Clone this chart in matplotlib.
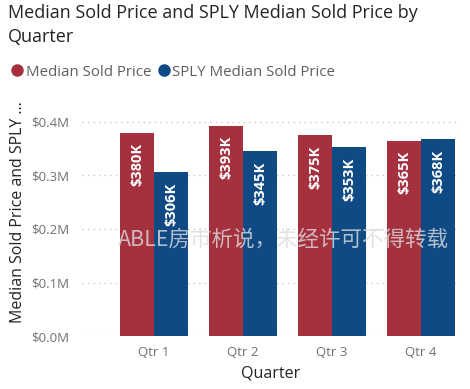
import matplotlib
matplotlib.use("Agg")
import matplotlib.pyplot as plt
from matplotlib.lines import Line2D
import numpy as np

plt.rcParams['font.family'] = ['Open Sans', 'DejaVu Sans']

# data
quarters = ['Qtr 1', 'Qtr 2', 'Qtr 3', 'Qtr 4']
median_sold = [380, 393, 375, 365]      # $K
sply_median_sold = [306, 345, 353, 368]  # $K
y_ticks = [0.0, 0.1, 0.2, 0.3, 0.4]     # $M

red = '#A5313F'
blue = '#0F4A85'

fig = plt.figure(figsize=(4.7, 3.89), dpi=100)
ax = fig.add_axes([0.1745, 0.1362, 0.8045, 0.5682])

x = np.arange(len(quarters))
w = 0.382
med_m = np.array(median_sold) / 1000
sply_m = np.array(sply_median_sold) / 1000
ax.bar(x - w / 2, med_m, w, color=red, zorder=2)
ax.bar(x + w / 2, sply_m, w, color=blue, zorder=2)

# value labels inside bar tops
for xs, vals in ((x - w / 2, median_sold), (x + w / 2, sply_median_sold)):
    for xi, v in zip(xs, vals):
        ax.annotate(f'${v}K', (xi, v / 1000), xytext=(0, -7.5), textcoords='offset points',
                    rotation=90, ha='center', va='top', color='white',
                    fontsize=10.5, fontweight='bold', zorder=3)

ax.set_xlim(-0.809, 3.438)
ax.set_ylim(0, 0.413)
ax.set_xticks(x)
ax.set_xticklabels(quarters, color='#707070', fontsize=9.5)
ax.set_yticks(y_ticks)
ax.set_yticklabels([f'${t:.1f}M' for t in y_ticks], color='#707070', fontsize=9.5)
ax.tick_params(length=0, pad=7)
ax.tick_params(axis='y', pad=9)
ax.grid(axis='y', linestyle=(0, (1, 3)), color='#c8c8c8', linewidth=1, zorder=0)
for s in ax.spines.values():
    s.set_visible(False)

ax.set_xlabel('Quarter', fontsize=11.5, color='#252423', labelpad=5)
fig.text(18 / 470, 1 - 212 / 389, 'Median Sold Price and SPLY ...', rotation=90,
         ha='center', va='center', fontsize=11.5, color='#252423')

# title
fig.text(8 / 470, 1 - 4 / 389, 'Median Sold Price and SPLY Median Sold Price by\nQuarter',
         ha='left', va='top', fontsize=13, color='#252423', linespacing=1.45)

# legend
handles = [Line2D([], [], marker='o', linestyle='', markersize=8, color=red),
           Line2D([], [], marker='o', linestyle='', markersize=8, color=blue)]
fig.legend(handles, ['Median Sold Price', 'SPLY Median Sold Price'], loc='center left',
           bbox_to_anchor=(0.0, 1 - 72 / 389), ncol=2, frameon=False, fontsize=10.8,
           handletextpad=0.0, columnspacing=0.3, handlelength=1.1, borderaxespad=0.2,
           labelcolor='#605E5C')

# watermark
fig.text(283 / 470, 1 - 240 / 389, 'ABLE房市析说，未经许可不得转载',
         family=['Noto Sans CJK SC', 'DejaVu Sans'], ha='center', va='center',
         fontsize=15.5, color='#dcdcdc', alpha=0.8, zorder=10)

fig.savefig('out.png', dpi=100)
